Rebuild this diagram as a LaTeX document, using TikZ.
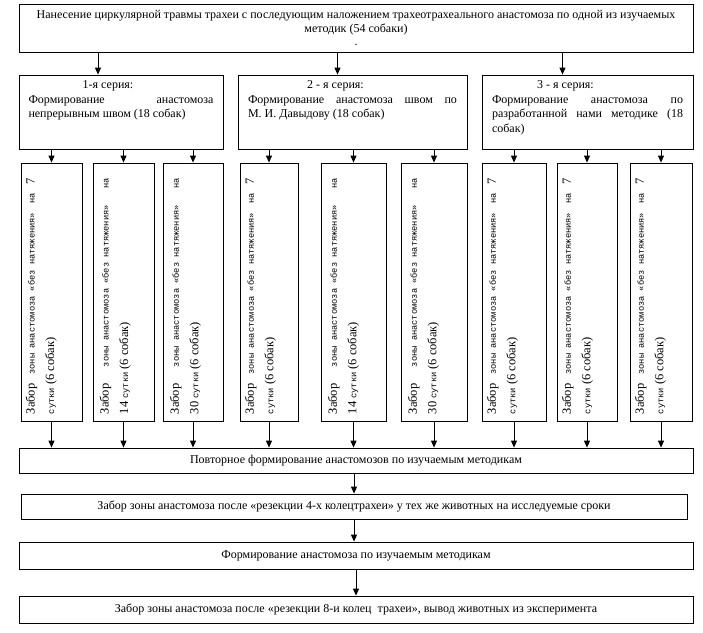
\documentclass[tikz,border=0pt]{standalone}
\usepackage{fontspec}
\setmainfont{Liberation Serif}
\setmonofont{Liberation Mono}
\usepackage{tikz}
\usetikzlibrary{arrows.meta}
\hyphenpenalty=10000
\newcommand{\cour}[1]{{\ttfamily\fontsize{8.7}{10}\selectfont #1}}
\newcommand{\zabor}[2]{Забор \cour{зоны анастомоза «без натяжения»} \cour{на}#1\linebreak #2\cour{сутки} (6 собак)}

\begin{document}
\begin{tikzpicture}[x=1pt,y=-1pt,
		box/.style={draw,line width=0.8pt,inner sep=0pt,align=center,font=\fontsize{12}{13.5}\selectfont},
		series/.style={draw,line width=0.8pt,minimum height=74pt},
		stext/.style={anchor=north,inner sep=0pt,align=justify,font=\fontsize{12}{14.5}\selectfont},
		sample/.style={draw,line width=0.8pt,minimum height=258pt},
		vtext/.style={rotate=90,anchor=north west,inner sep=0pt,text width=236pt,align=justify,font=\fontsize{12.5}{19.5}\selectfont},
		arr/.style={-{Triangle[length=7pt,width=6pt]},line width=1pt}]
			\useasboundingbox (0,0) rectangle (703,632);
			\node[box,minimum width=674pt,minimum height=48pt,text depth=-4pt] (top) at (356,28) {Нанесение циркулярной травмы трахеи с последующим наложением трахеотрахеального анастомоза по одной из изучаемых\\методик (54 собаки)\\.};
			\node[series,minimum width=204pt] (s1) at (121,112) {};
			\node[series,minimum width=229pt] (s2) at (352.5,112) {};
			\node[series,minimum width=211pt] (s3) at (587.5,112) {};
			\node[stext,text width=185pt] (s1t) at ([yshift=-6pt]s1.north) {\makebox[\linewidth]{1-я серия:\hspace{26pt}}\par Формирование анастомоза\linebreak непрерывным швом (18 собак)};
			\node[stext,text width=209pt] (s2t) at ([yshift=-6pt]s2.north) {\makebox[\linewidth]{2 - я серия:\hspace{34pt}}\par Формирование анастомоза швом по\linebreak М.~И.~Давыдову (18 собак)};
			\node[stext,text width=191pt] (s3t) at ([yshift=-6pt]s3.north) {\makebox[\linewidth]{3 - я серия:\hspace{44pt}}\par Формирование анастомоза по\linebreak разработанной нами методике (18\linebreak собак)};
			
			\node[sample,minimum width=61pt] (a1) at (51.5,292) {};
			\node[sample,minimum width=61pt] (a2) at (123.5,292) {};
			\node[sample,minimum width=60pt] (a3) at (193,292) {};
			\node[sample,minimum width=58pt] (b1) at (269,292) {};
			\node[sample,minimum width=65pt] (b2) at (353.5,292) {};
			\node[sample,minimum width=66pt] (b3) at (434,292) {};
			\node[sample,minimum width=64pt] (c1) at (514,292) {};
			\node[sample,minimum width=60pt] (c2) at (587,292) {};
			\node[sample,minimum width=62pt] (c3) at (661,292) {};
			\node[vtext] (a1t) at ([xshift=5pt,yshift=7pt]a1.south west) {\zabor{ 7}{}};
			\node[vtext] (a2t) at ([xshift=7pt,yshift=7pt]a2.south west) {\zabor{}{14 }};
			\node[vtext] (a3t) at ([xshift=7pt,yshift=7pt]a3.south west) {\zabor{}{30 }};
			\node[vtext] (b1t) at ([xshift=5pt,yshift=7pt]b1.south west) {\zabor{ 7}{}};
			\node[vtext] (b2t) at ([xshift=7pt,yshift=7pt]b2.south west) {\zabor{}{14 }};
			\node[vtext] (b3t) at ([xshift=7pt,yshift=7pt]b3.south west) {\zabor{}{30 }};
			\node[vtext] (c1t) at ([xshift=5pt,yshift=7pt]c1.south west) {\zabor{ 7}{}};
			\node[vtext] (c2t) at ([xshift=5pt,yshift=7pt]c2.south west) {\zabor{ 7}{}};
			\node[vtext] (c3t) at ([xshift=5pt,yshift=7pt]c3.south west) {\zabor{ 7}{}};
			
			\node[box,minimum width=674pt,minimum height=25pt] (r1) at (356,460.5) {Повторное формирование анастомозов по изучаемым методикам};
			\node[box,minimum width=666pt,minimum height=25pt] (r2) at (354,506.5) {Забор зоны анастомоза после «резекции 4-х колецтрахеи» у тех же животных на исследуемые сроки};
			\node[box,minimum width=674pt,minimum height=27pt] (r3) at (356,555.5) {Формирование анастомоза по изучаемым методикам};
			\node[box,minimum width=674pt,minimum height=27pt] (r4) at (356,609.5) {Забор зоны анастомоза после «резекции 8-и колец\ \ трахеи», вывод животных из эксперимента};
			
			\coordinate (t1) at ([xshift=-23pt]s1.north);
			\coordinate (t2) at ([xshift=-15pt]s2.north);
			\coordinate (t3) at ([xshift=-25pt]s3.north);
			\draw[arr] (top.south -| t1) -- (t1);
			\draw[arr] (top.south -| t2) -- (t2);
			\draw[arr] (top.south -| t3) -- (t3);
			\draw[arr] (s1.south -| a1.north) -- (a1.north);
			\draw[arr] (s1.south -| a2.north) -- (a2.north);
			\draw[arr] (s1.south -| a3.north) -- (a3.north);
			\draw[arr] (s2.south -| b1.north) -- (b1.north);
			\draw[arr] (s2.south -| b2.north) -- (b2.north);
			\draw[arr] (s2.south -| b3.north) -- (b3.north);
			\draw[arr] (s3.south -| c1.north) -- (c1.north);
			\draw[arr] (s3.south -| c2.north) -- (c2.north);
			\draw[arr] (s3.south -| c3.north) -- (c3.north);
			\draw[arr] (a1.south) -- (a1.south |- r1.north);
			\draw[arr] (a2.south) -- (a2.south |- r1.north);
			\draw[arr] (a3.south) -- (a3.south |- r1.north);
			\draw[arr] (b1.south) -- (b1.south |- r1.north);
			\draw[arr] (b2.south) -- (b2.south |- r1.north);
			\draw[arr] (b3.south) -- (b3.south |- r1.north);
			\draw[arr] (c1.south) -- (c1.south |- r1.north);
			\draw[arr] (c2.south) -- (c2.south |- r1.north);
			\draw[arr] (c3.south) -- (c3.south |- r1.north);
			\draw[arr] (r2.north |- r1.south) -- (r2.north);
			\draw[arr] (r2.south) -- (r2.south |- r3.north);
			\draw[arr] (r3.south) -- (r4.north);
\end{tikzpicture}
\end{document}
